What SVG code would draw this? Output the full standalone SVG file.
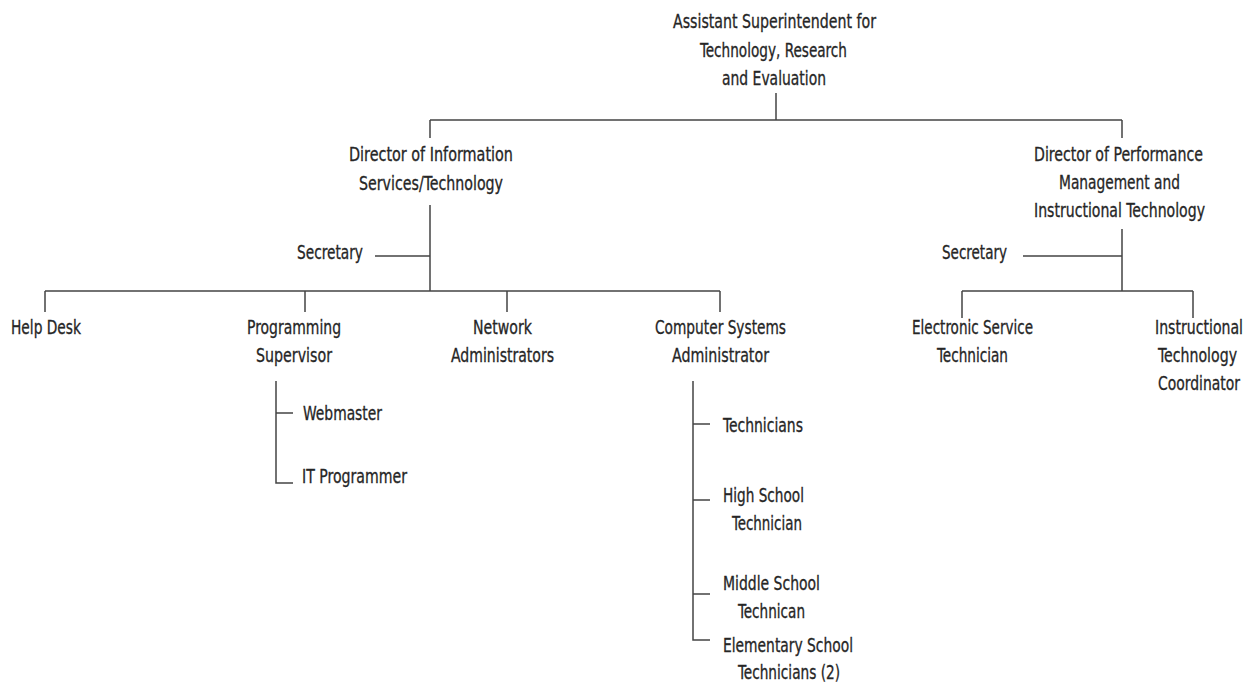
<svg xmlns="http://www.w3.org/2000/svg" width="1254" height="696" viewBox="0 0 1254 696">
  <style>
    text { font-family: "DejaVu Sans Condensed", "DejaVu Sans", "Liberation Sans", sans-serif; font-stretch: condensed; font-size: 19px; fill: #262626; stroke: #262626; stroke-width: 0.3; }
    .m { text-anchor: middle; }
    .s { text-anchor: start; }
    .ln { fill: none; stroke: #444; stroke-width: 1.5; }
  </style>
  <rect width="1254" height="696" fill="#fff"/>

  <!-- connectors -->
  <g id="connectors" class="ln">
    <path d="M776 93 V120 M430 120 H1122 M430 120 V138 M1122 120 V138"/>
    <!-- information services branch -->
    <path d="M430 205 V291 M375 256 H430 M45 291 H720 M45 291 V312 M305 291 V312 M507 291 V312 M720 291 V312"/>
    <!-- programming supervisor reports -->
    <path d="M276 381 V483 H293 M276 413 H293"/>
    <!-- computer systems administrator reports -->
    <path d="M693 381 V640 H710 M693 424 H710 M693 500 H710 M693 594 H710"/>
    <!-- performance management branch -->
    <path d="M1122 229 V291 M1023 256 H1122 M962 291 H1193 M962 291 V318 M1193 291 V318"/>
  </g>

  <g id="asst-superintendent">
    <text class="m" x="774.5" y="28" textLength="203" lengthAdjust="spacingAndGlyphs">Assistant Superintendent for</text>
    <text class="m" x="773.5" y="57" textLength="147" lengthAdjust="spacingAndGlyphs">Technology, Research</text>
    <text class="m" x="774" y="85" textLength="104" lengthAdjust="spacingAndGlyphs">and Evaluation</text>
  </g>
  <g id="dir-info-services">
    <text class="m" x="431" y="161" textLength="164" lengthAdjust="spacingAndGlyphs">Director of Information</text>
    <text class="m" x="431" y="190" textLength="144" lengthAdjust="spacingAndGlyphs">Services/Technology</text>
  </g>
  <g id="secretary-info">
    <text class="s" x="297" y="259" textLength="66" lengthAdjust="spacingAndGlyphs">Secretary</text>
  </g>
  <g id="help-desk">
    <text class="s" x="11" y="334" textLength="70" lengthAdjust="spacingAndGlyphs">Help Desk</text>
  </g>
  <g id="programming-supervisor">
    <text class="m" x="294" y="334" textLength="94" lengthAdjust="spacingAndGlyphs">Programming</text>
    <text class="m" x="294" y="362" textLength="76" lengthAdjust="spacingAndGlyphs">Supervisor</text>
  </g>
  <g id="webmaster">
    <text class="s" x="303" y="420" textLength="79" lengthAdjust="spacingAndGlyphs">Webmaster</text>
  </g>
  <g id="it-programmer">
    <text class="s" x="302" y="483" textLength="105" lengthAdjust="spacingAndGlyphs">IT Programmer</text>
  </g>
  <g id="network-admins">
    <text class="m" x="502.5" y="334" textLength="59" lengthAdjust="spacingAndGlyphs">Network</text>
    <text class="m" x="502.5" y="362" textLength="103" lengthAdjust="spacingAndGlyphs">Administrators</text>
  </g>
  <g id="computer-systems-admin">
    <text class="m" x="720.5" y="334" textLength="131" lengthAdjust="spacingAndGlyphs">Computer Systems</text>
    <text class="m" x="720.5" y="362" textLength="97" lengthAdjust="spacingAndGlyphs">Administrator</text>
  </g>
  <g id="technicians">
    <text class="s" x="723" y="432" textLength="80" lengthAdjust="spacingAndGlyphs">Technicians</text>
  </g>
  <g id="high-school-tech">
    <text class="m" x="763.5" y="502" textLength="81" lengthAdjust="spacingAndGlyphs">High School</text>
    <text class="m" x="767" y="530" textLength="70" lengthAdjust="spacingAndGlyphs">Technician</text>
  </g>
  <g id="middle-school-tech">
    <text class="m" x="771.5" y="590" textLength="97" lengthAdjust="spacingAndGlyphs">Middle School</text>
    <text class="m" x="771.5" y="618" textLength="67" lengthAdjust="spacingAndGlyphs">Technican</text>
  </g>
  <g id="elementary-school-tech">
    <text class="m" x="788" y="652" textLength="130" lengthAdjust="spacingAndGlyphs">Elementary School</text>
    <text class="m" x="789" y="679" textLength="102" lengthAdjust="spacingAndGlyphs">Technicians (2)</text>
  </g>
  <g id="dir-performance">
    <text class="m" x="1118.5" y="161" textLength="169" lengthAdjust="spacingAndGlyphs">Director of Performance</text>
    <text class="m" x="1119.5" y="189" textLength="121" lengthAdjust="spacingAndGlyphs">Management and</text>
    <text class="m" x="1119.5" y="217" textLength="171" lengthAdjust="spacingAndGlyphs">Instructional Technology</text>
  </g>
  <g id="secretary-performance">
    <text class="s" x="942" y="259" textLength="65" lengthAdjust="spacingAndGlyphs">Secretary</text>
  </g>
  <g id="electronic-service-tech">
    <text class="m" x="972.5" y="334" textLength="121" lengthAdjust="spacingAndGlyphs">Electronic Service</text>
    <text class="m" x="972.5" y="362" textLength="71" lengthAdjust="spacingAndGlyphs">Technician</text>
  </g>
  <!-- near the right edge: squeeze with a transform so the text box itself stays narrow -->
  <g id="instructional-tech-coord">
    <text class="m" transform="translate(1199 334) scale(0.74 1)" textLength="118.9" lengthAdjust="spacingAndGlyphs">Instructional</text>
    <text class="m" transform="translate(1197.5 362) scale(0.72 1)" textLength="109.7" lengthAdjust="spacingAndGlyphs">Technology</text>
    <text class="m" transform="translate(1199 390) scale(0.73 1)" textLength="112.3" lengthAdjust="spacingAndGlyphs">Coordinator</text>
  </g>
</svg>
